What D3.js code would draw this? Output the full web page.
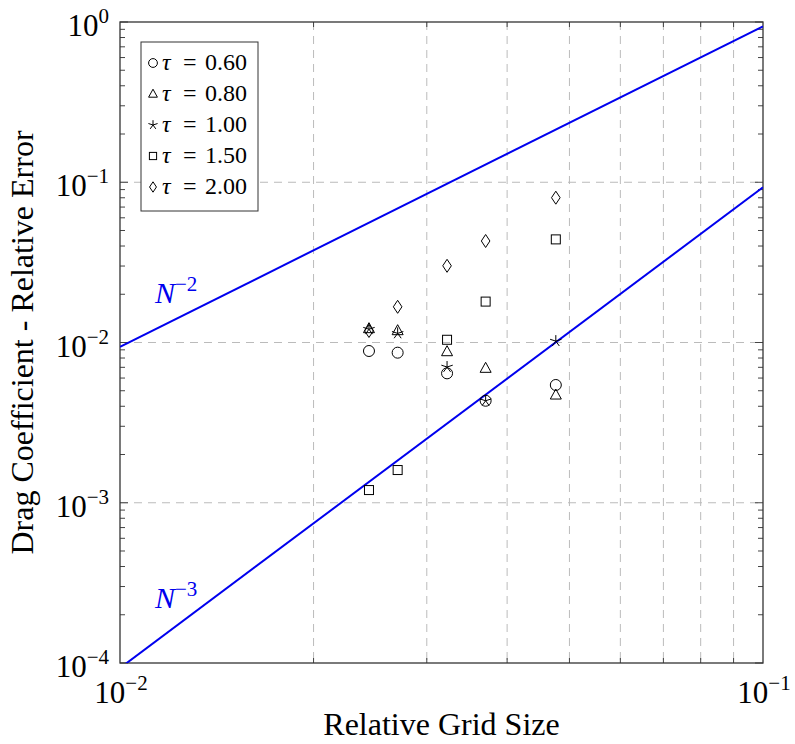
<!DOCTYPE html>
<html>
<head>
<meta charset="utf-8">
<script src="https://cdn.jsdelivr.net/npm/d3@7"></script>
<style>
  body { margin: 0; background: #fff; }
  svg, svg text { font-family: 'Liberation Serif', 'Times New Roman', Times, 'DejaVu Serif', serif; }
  text { fill: #000; }
</style>
</head>
<body>
<div id="chart"></div>
<script>
// grid sizes (1/N) and relative error per tau
const gridSize = [1 / 41, 1 / 37, 1 / 31, 1 / 27, 1 / 21]
const tau060 = [0.00885, 0.00864, 0.00642, 0.00433, 0.00543]
const tau080 = [0.0122, 0.01185, 0.00876, 0.0069, 0.0047]
const tau100 = [0.0121, 0.0114, 0.00703, 0.00433, 0.0102]
const tau150 = [0.0012, 0.0016, 0.0104, 0.018, 0.044]
const tau200 = [0.0118, 0.0167, 0.0301, 0.043, 0.0801]
const legendLabels = ['0.60', '0.80', '1.00', '1.50', '2.00']
const markers = ['circle', 'triangle', 'star', 'square', 'diamond']
const xTicks = [0.01, 0.1]
const yTicks = [1e-4, 1e-3, 1e-2, 1e-1, 1]
// reference slopes: err = c * h^p
const refLines = [
  { label: '−2', c: 94, p: 2 },
  { label: '−3', c: 93, p: 3 }
]

const width = 795, height = 744
const m = { left: 120, right: 32, top: 22, bottom: 81 }
const iw = width - m.left - m.right
const ih = height - m.top - m.bottom

const svg = d3.select('#chart').append('svg')
  .attr('width', width).attr('height', height)
  .attr('font-family', "'Liberation Serif', 'Times New Roman', serif")

const x = d3.scaleLog().domain([0.01, 0.1]).range([m.left, m.left + iw])
const y = d3.scaleLog().domain([1e-4, 1]).range([m.top + ih, m.top])

const exponent = v => Math.round(Math.log10(v))

// grid
const xMinor = d3.range(2, 10).map(k => k * 0.01)
svg.append('g').selectAll('line').data(xMinor).enter().append('line')
  .attr('x1', d => x(d)).attr('x2', d => x(d))
  .attr('y1', m.top).attr('y2', m.top + ih)
  .attr('stroke', '#bbb').attr('stroke-width', 1).attr('stroke-dasharray', '8,6')
svg.append('g').selectAll('line').data(yTicks.slice(1, -1)).enter().append('line')
  .attr('x1', m.left).attr('x2', m.left + iw)
  .attr('y1', d => y(d)).attr('y2', d => y(d))
  .attr('stroke', '#bbb').attr('stroke-width', 1).attr('stroke-dasharray', '8,6')

// ticks (inside, on all four sides)
const yMinor = []
yTicks.slice(0, -1).forEach(t => d3.range(2, 10).forEach(k => yMinor.push(t * k)))
const ticks = svg.append('g').attr('stroke', '#444').attr('stroke-width', 1)
yTicks.forEach(t => {
  ticks.append('line').attr('x1', m.left).attr('x2', m.left + 8).attr('y1', y(t)).attr('y2', y(t))
  ticks.append('line').attr('x1', m.left + iw).attr('x2', m.left + iw - 8).attr('y1', y(t)).attr('y2', y(t))
})
yMinor.forEach(t => {
  ticks.append('line').attr('x1', m.left).attr('x2', m.left + 5).attr('y1', y(t)).attr('y2', y(t))
  ticks.append('line').attr('x1', m.left + iw).attr('x2', m.left + iw - 5).attr('y1', y(t)).attr('y2', y(t))
})
xMinor.forEach(t => {
  ticks.append('line').attr('y1', m.top + ih).attr('y2', m.top + ih - 5).attr('x1', x(t)).attr('x2', x(t))
  ticks.append('line').attr('y1', m.top).attr('y2', m.top + 5).attr('x1', x(t)).attr('x2', x(t))
})

// frame
svg.append('rect')
  .attr('x', m.left).attr('y', m.top).attr('width', iw).attr('height', ih)
  .attr('fill', 'none').attr('stroke', '#333').attr('stroke-width', 1.3)

// tick labels
const powLabel = (sel, v) => {
  sel.append('tspan').text('10')
  sel.append('tspan').attr('dy', -13).attr('font-size', 21)
    .text(exponent(v) < 0 ? '−' + Math.abs(exponent(v)) : exponent(v))
}
yTicks.forEach(t => {
  const tx = svg.append('text').attr('x', m.left - 11).attr('y', y(t) + 14)
    .attr('text-anchor', 'end').attr('font-size', 31)
  powLabel(tx, t)
})
xTicks.forEach(t => {
  const tx = svg.append('text').attr('x', x(t) + 1).attr('y', m.top + ih + 40)
    .attr('text-anchor', 'middle').attr('font-size', 31)
  powLabel(tx, t)
})

// axis titles
svg.append('text').attr('x', m.left + iw / 2).attr('y', 735)
  .attr('text-anchor', 'middle').attr('font-size', 32).text('Relative Grid Size')
svg.append('text')
  .attr('transform', `translate(33,${m.top + ih / 2}) rotate(-90)`)
  .attr('text-anchor', 'middle').attr('font-size', 32).text('Drag Coefficient - Relative Error')

// reference lines
svg.append('clipPath').attr('id', 'clip').append('rect')
  .attr('x', m.left).attr('y', m.top).attr('width', iw).attr('height', ih)
const line = d3.line().x(d => x(d[0])).y(d => y(d[1]))
refLines.forEach(r => {
  const pts = [0.01, 0.1].map(h => [h, r.c * Math.pow(h, r.p)])
  svg.append('path').attr('d', line(pts)).attr('clip-path', 'url(#clip)')
    .attr('fill', 'none').attr('stroke', '#0000ee').attr('stroke-width', 2)
})
const refLabelY = [303, 608]
refLines.forEach((r, i) => {
  const tx = svg.append('text').attr('x', 155).attr('y', refLabelY[i])
    .attr('font-size', 30).style('fill', '#0000ee').attr('font-style', 'italic')
  tx.append('tspan').text('N')
  tx.append('tspan').attr('dy', -12).attr('font-size', 21).attr('font-style', 'normal').text(r.label)
})

// markers
const drawMarker = (g, type, cx, cy, s) => {
  let el
  if (type === 'circle') el = g.append('circle').attr('cx', cx).attr('cy', cy).attr('r', 5.5 * s)
  else if (type === 'square') el = g.append('rect').attr('x', cx - 4.5 * s).attr('y', cy - 4.5 * s)
    .attr('width', 9 * s).attr('height', 9 * s)
  else if (type === 'triangle') el = g.append('path')
    .attr('d', `M${cx},${cy - 6 * s}L${cx + 5.5 * s},${cy + 4 * s}L${cx - 5.5 * s},${cy + 4 * s}Z`)
  else if (type === 'diamond') el = g.append('path')
    .attr('d', `M${cx},${cy - 6.5 * s}L${cx + 4.3 * s},${cy}L${cx},${cy + 6.5 * s}L${cx - 4.3 * s},${cy}Z`)
  else {
    const d = d3.range(5).map(k => {
      const a = -Math.PI / 2 + k * 2 * Math.PI / 5
      return `M${cx},${cy}L${cx + 6 * s * Math.cos(a)},${cy + 6 * s * Math.sin(a)}`
    }).join('')
    el = g.append('path').attr('d', d)
  }
  el.attr('fill', 'none').attr('stroke', '#000').attr('stroke-width', 1)
}

const series = [tau060, tau080, tau100, tau150, tau200]
const pts = svg.append('g')
series.forEach((vals, i) => {
  vals.forEach((v, j) => drawMarker(pts, markers[i], x(gridSize[j]), y(v), 1))
})

// legend
const lg = svg.append('g')
lg.append('rect').attr('x', 141).attr('y', 42).attr('width', 117).attr('height', 169)
  .attr('fill', '#fff').attr('stroke', '#333').attr('stroke-width', 1)
legendLabels.forEach((l, i) => {
  const cy = 63 + i * 31
  drawMarker(lg, markers[i], 153, cy, 0.8)
  const tx = lg.append('text').attr('y', cy + 7).attr('font-size', 24)
  tx.append('tspan').attr('x', 162).attr('font-style', 'italic').text('τ')
  tx.append('tspan').attr('x', 183).text('=')
  tx.append('tspan').attr('x', 205).text(l)
})
</script>
</body>
</html>
